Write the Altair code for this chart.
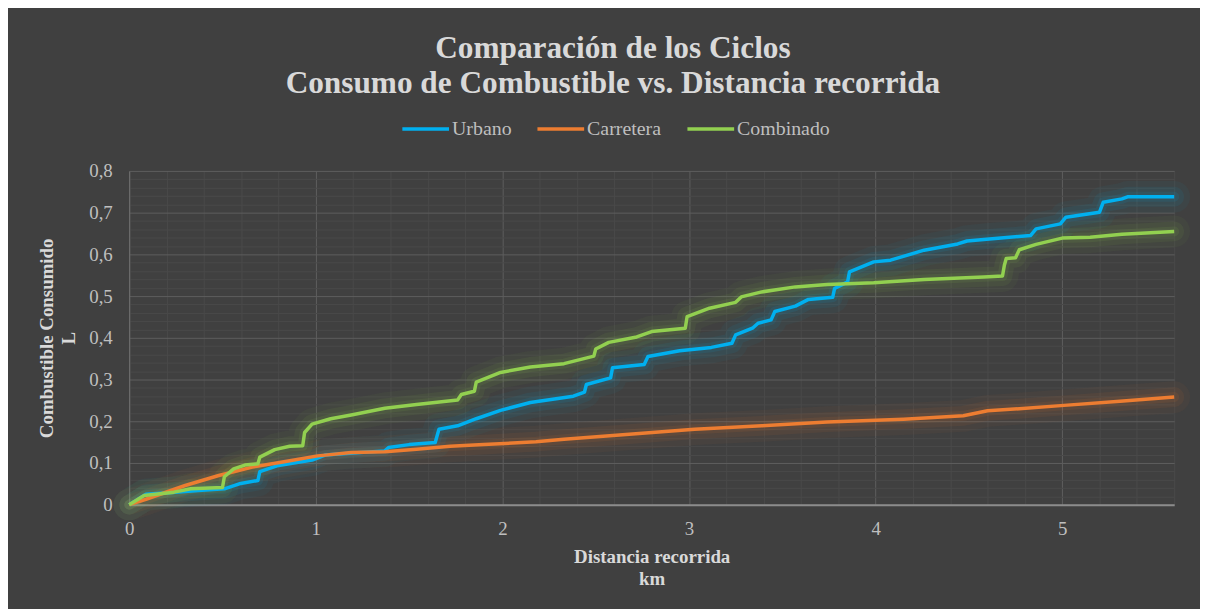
import altair as alt
import pandas as pd

series_names = ["Urbano", "Carretera", "Combinado"]
series_colors = ["#00b0f0", "#ed7d31", "#92d050"]

urbano_km = [0, 0.09, 0.23, 0.37, 0.51, 0.59, 0.69, 0.70, 0.80, 0.98, 1.05, 1.20, 1.37, 1.39,
             1.50, 1.64, 1.66, 1.76, 1.86, 1.99, 2.15, 2.38, 2.44, 2.45, 2.58, 2.59, 2.76, 2.78,
             2.95, 3.12, 3.23, 3.25, 3.34, 3.37, 3.44, 3.46, 3.57, 3.64, 3.77, 3.78, 3.85, 3.86,
             3.99, 4.08, 4.26, 4.44, 4.49, 4.61, 4.83, 4.86, 4.99, 5.02, 5.20, 5.22, 5.32, 5.35, 5.60]
urbano_l = [0, 0.025, 0.029, 0.034, 0.038, 0.050, 0.058, 0.079, 0.094, 0.107, 0.119, 0.124, 0.129, 0.137,
            0.144, 0.149, 0.181, 0.189, 0.206, 0.226, 0.245, 0.260, 0.270, 0.288, 0.304, 0.328, 0.336, 0.355,
            0.369, 0.377, 0.387, 0.407, 0.423, 0.435, 0.443, 0.463, 0.476, 0.492, 0.497, 0.518, 0.534, 0.558,
            0.582, 0.586, 0.610, 0.625, 0.632, 0.637, 0.645, 0.661, 0.673, 0.689, 0.701, 0.725, 0.733, 0.738, 0.738]

carretera_km = [0, 0.09, 0.30, 0.48, 0.66, 0.83, 1.01, 1.19, 1.37, 1.54, 1.72, 1.90, 2.18, 2.33,
                2.68, 3.03, 3.39, 3.74, 4.15, 4.47, 4.60, 4.77, 5.01, 5.31, 5.60]
carretera_l = [0, 0.013, 0.046, 0.070, 0.090, 0.103, 0.117, 0.125, 0.127, 0.133, 0.140, 0.144, 0.151, 0.157,
               0.169, 0.181, 0.189, 0.198, 0.205, 0.213, 0.225, 0.230, 0.238, 0.248, 0.258]

combinado_km = [0, 0.08, 0.24, 0.33, 0.50, 0.51, 0.56, 0.62, 0.69, 0.70, 0.78, 0.86, 0.93, 0.94,
                0.98, 1.08, 1.19, 1.37, 1.54, 1.76, 1.78, 1.85, 1.86, 1.99, 2.15, 2.33, 2.49, 2.50,
                2.57, 2.72, 2.80, 2.98, 2.99, 3.11, 3.25, 3.28, 3.39, 3.57, 3.74, 3.99, 4.26, 4.58,
                4.68, 4.69, 4.70, 4.75, 4.77, 4.86, 5.00, 5.15, 5.32, 5.60]
combinado_l = [0, 0.022, 0.030, 0.038, 0.041, 0.067, 0.086, 0.095, 0.098, 0.114, 0.132, 0.140, 0.141, 0.173,
               0.193, 0.206, 0.215, 0.231, 0.240, 0.251, 0.264, 0.272, 0.294, 0.317, 0.330, 0.338, 0.356, 0.373,
               0.389, 0.402, 0.415, 0.423, 0.451, 0.471, 0.485, 0.498, 0.510, 0.522, 0.528, 0.532, 0.540, 0.546,
               0.548, 0.574, 0.590, 0.592, 0.611, 0.624, 0.639, 0.641, 0.648, 0.655]

x_ticks = [round(i * 0.2, 1) for i in range(29)]
y_ticks = [round(i * 0.02, 2) for i in range(41)]

title_lines = ["Comparación de los Ciclos", "Consumo de Combustible vs. Distancia recorrida"]
x_title = ["Distancia recorrida", "km"]
y_title = ["Combustible Consumido", "L"]

rows = []
for name, xs, ys in [("Urbano", urbano_km, urbano_l),
                     ("Carretera", carretera_km, carretera_l),
                     ("Combinado", combinado_km, combinado_l)]:
    for i, (a, b) in enumerate(zip(xs, ys)):
        rows.append({"serie": name, "km": a, "litros": b, "idx": i})
df = pd.DataFrame(rows)

FONT = "Liberation Serif"
LABEL_C = "#bfbfbf"
TITLE_C = "#d9d9d9"
MAJOR_C = "#5e5e5e"
MINOR_C = "#4a4a4a"

x_enc = alt.X(
    "km:Q",
    scale=alt.Scale(domain=[0, 5.6], nice=False, zero=True),
    axis=alt.Axis(
        values=x_ticks,
        labelExpr="abs(datum.value - round(datum.value)) < 1e-6 ? format(datum.value, 'd') : ''",
        grid=True,
        gridColor={"condition": {"test": "abs(datum.value - round(datum.value)) < 1e-6", "value": MAJOR_C},
                   "value": MINOR_C},
        gridWidth=1,
        domainColor="#8c8c8c", domainWidth=2,
        ticks=False, tickSize=0,
        labelPadding=15, labelFont=FONT, labelFontSize=19, labelColor=LABEL_C,
        labelFlush=False, labelOverlap=False, labelBaseline="top",
        title=x_title, titleFont=FONT, titleFontSize=19, titleFontWeight="bold",
        titleColor=TITLE_C, titleLineHeight=22, titleBaseline="top", titleAlign="center",
        titleX=526, titleY=43,
    ),
)
y_enc = alt.Y(
    "litros:Q",
    scale=alt.Scale(domain=[0, 0.8], nice=False, zero=True),
    axis=alt.Axis(
        values=y_ticks,
        labelExpr="abs(datum.value * 10 - round(datum.value * 10)) < 1e-6 ? replace(format(datum.value, '.1~f'), '.', ',') : ''",
        grid=True,
        gridColor={"condition": {"test": "abs(datum.value * 10 - round(datum.value * 10)) < 1e-6", "value": MAJOR_C},
                   "value": MINOR_C},
        gridWidth=1,
        domainColor="#6e6e6e", domainWidth=1,
        ticks=False, tickSize=0,
        labelPadding=17, labelFont=FONT, labelFontSize=19, labelColor=LABEL_C,
        labelFlush=False, labelOverlap=False,
        title=y_title, titleFont=FONT, titleFontSize=19, titleFontWeight="bold",
        titleColor=TITLE_C, titleLineHeight=22, titleBaseline="top", titleAlign="center",
        titleAngle=270, titleX=-92, titleY=168,
    ),
)

base = alt.Chart(df)

glow_layers = []
for name, col in zip(series_names, series_colors):
    sub = base.transform_filter(alt.datum.serie == name)
    for w, op in [(32, 0.045), (20, 0.065), (10, 0.09)]:
        glow_layers.append(
            sub.mark_line(strokeWidth=w, opacity=op, strokeJoin="round", strokeCap="round", color=col)
            .encode(x=x_enc, y=y_enc, order="idx:Q")
        )

main = base.mark_line(strokeWidth=3.5, strokeJoin="round").encode(
    x=x_enc, y=y_enc,
    color=alt.Color(
        "serie:N",
        scale=alt.Scale(domain=series_names, range=series_colors),
        sort=series_names,
        legend=alt.Legend(
            title=None, orient="none", legendX=273, legendY=-68, direction="horizontal",
            symbolType="stroke", symbolSize=2209, symbolStrokeWidth=3.5,
            labelFont=FONT, labelFontSize=20, labelColor=LABEL_C,
            columnPadding=19, labelOffset=1, padding=0,
        ),
    ),
    order="idx:Q",
)

chart = alt.layer(*glow_layers, main).properties(
    width=1052,
    height=336,
    autosize=alt.AutoSizeParams(type="none"),
    padding={"left": 122, "top": 162, "right": 26, "bottom": 103},
    background="#404040",
    title=alt.TitleParams(
        text=title_lines, font=FONT, fontSize=31.5, fontWeight="bold", color=TITLE_C,
        lineHeight=35, anchor="middle", frame="group", dx=-39, offset=-28, baseline="bottom",
    ),
).configure_view(stroke=None)

chart.save("out.html", embed_options={"renderer": "svg", "actions": False})
